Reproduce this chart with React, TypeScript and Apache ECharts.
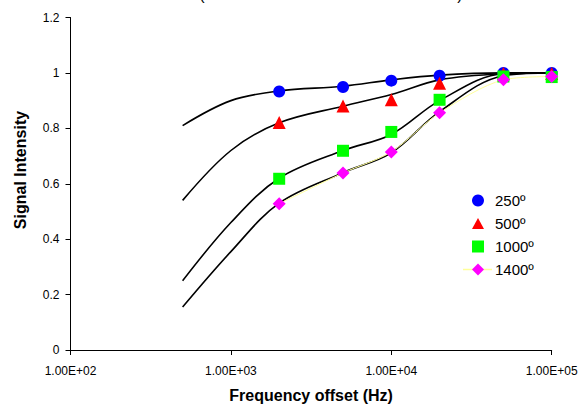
import React, { useEffect, useRef } from "react";
import * as echarts from "echarts";

const FONT = "'Liberation Sans', Arial, sans-serif";

// Theoretical curves (black lines)
const curveFreq = [500, 1000, 2000, 5000, 10000, 20000, 50000, 100000];
const curve250 = [0.81, 0.9, 0.935, 0.952, 0.975, 0.992, 1.0, 1.0];
const curve500 = [0.54, 0.72, 0.82, 0.88, 0.922, 0.975, 0.997, 1.0];
const curve1000 = [0.25, 0.46, 0.62, 0.72, 0.778, 0.9, 0.997, 1.0];
const curve1400 = [0.155, 0.355, 0.53, 0.64, 0.712, 0.86, 0.99, 1.0];

// Measured points
const measFreq = [2000, 5000, 10000, 20000, 50000, 100000];
const meas250 = [0.933, 0.949, 0.972, 0.99, 1.0, 1.0];
const meas500 = [0.821, 0.881, 0.903, 0.963, 0.998, 0.998];
const meas1000 = [0.618, 0.719, 0.787, 0.903, 0.987, 0.985];
const meas1400 = [0.528, 0.639, 0.715, 0.856, 0.975, 0.987];

const legendNames = ["250º", "500º", "1000º", "1400º"];
const legendIcons = [
  "path://M5,0 A5,5 0 1 1 4.99,0 Z",
  "path://M5,0 L10,9 L0,9 Z",
  "path://M0,0 L10,0 L10,10 L0,10 Z",
  "path://M5,0 L10,5 L5,10 L0,5 Z",
];
const yTicks = [0, 0.2, 0.4, 0.6, 0.8, 1, 1.2];

const pairs = (xs: number[], ys: number[]) => xs.map((x, i) => [x, ys[i]]);

const LEG_LEFT = 467;
const LEG_TOP = 188;
const LEG_ICON = 12;
const LEG_STEP = 23;

export default function App() {
  const ref = useRef<HTMLDivElement>(null);
  useEffect(() => {
    if (!ref.current) return;
    const chart = echarts.init(ref.current, null, { renderer: "svg" });
    const curveSeries = [curve250, curve500, curve1000, curve1400].map((c, i) => ({
      name: "curve" + i,
      type: "line",
      data: pairs(curveFreq, c),
      smooth: 0.35,
      symbol: "none",
      silent: true,
      z: 1,
      lineStyle: { color: "#000", width: 1.6 },
    }));
    const legY4 = LEG_TOP + 5 + 7.5 + 3 * LEG_STEP;
    const iconCx = LEG_LEFT + 5 + LEG_ICON / 2;
    chart.setOption({
      animation: false,
      grid: { left: 70.5, right: 32.3, top: 17.5, bottom: 57, containLabel: false },
      xAxis: {
        type: "log",
        logBase: 10,
        min: 100,
        max: 100000,
        name: "Frequency offset (Hz)",
        nameLocation: "middle",
        nameGap: 37,
        nameTextStyle: { fontFamily: FONT, fontSize: 16, fontWeight: "bold", color: "#000" },
        axisLine: { show: true, lineStyle: { color: "#000", width: 1 } },
        axisTick: { show: true, inside: false, length: 5, lineStyle: { color: "#000" } },
        minorTick: { show: false },
        splitLine: { show: false },
        axisLabel: {
          margin: 15,
          fontFamily: FONT,
          fontSize: 12,
          color: "#000",
          formatter: (v: number) => {
            const e = Math.round(Math.log10(v));
            return "1.00E+" + String(e).padStart(2, "0");
          },
        },
      },
      yAxis: {
        type: "value",
        min: yTicks[0],
        max: yTicks[yTicks.length - 1],
        interval: 0.2,
        axisLine: { show: true, lineStyle: { color: "#000", width: 1 } },
        axisTick: { show: true, inside: false, length: 5, lineStyle: { color: "#000" } },
        splitLine: { show: false },
        axisLabel: {
          margin: 11,
          fontFamily: FONT,
          fontSize: 12,
          color: "#000",
          formatter: (v: number) => String(Math.round(v * 10) / 10),
        },
      },
      legend: {
        data: legendNames.map((n, i) => ({ name: n, icon: legendIcons[i] })),
        orient: "vertical",
        left: LEG_LEFT,
        top: LEG_TOP,
        itemWidth: LEG_ICON,
        itemHeight: LEG_ICON,
        itemGap: 8,
        symbolKeepAspect: true,
        textStyle: { fontFamily: FONT, fontSize: 15, color: "#000", padding: [0, 0, 0, 6] },
      },
      graphic: [
        {
          type: "text",
          x: 20,
          y: 170,
          rotation: Math.PI / 2,
          style: {
            text: "Signal Intensity",
            fontFamily: FONT,
            fontSize: 16,
            fontWeight: "bold",
            fill: "#000",
            align: "center",
            verticalAlign: "middle",
          },
        },
        {
          type: "line",
          z: -1,
          shape: { x1: iconCx - 15, y1: legY4, x2: iconCx + 14, y2: legY4 },
          style: { stroke: "#FFFF99", lineWidth: 1.5 },
        },
        {
          type: "text",
          x: 202,
          y: -6,
          style: { text: "(", fontFamily: FONT, fontSize: 16, fill: "#000", align: "center", verticalAlign: "middle" },
        },
        {
          type: "text",
          x: 460,
          y: -6,
          style: { text: ")", fontFamily: FONT, fontSize: 16, fill: "#000", align: "center", verticalAlign: "middle" },
        },
      ],
      series: [
        ...curveSeries,
        {
          name: legendNames[0],
          type: "scatter",
          data: pairs(measFreq, meas250),
          symbol: "circle",
          symbolSize: 12,
          itemStyle: { color: "#0000FF", opacity: 1 },
          z: 3,
        },
        {
          name: legendNames[1],
          type: "scatter",
          data: pairs(measFreq, meas500),
          symbol: "triangle",
          symbolSize: 13,
          itemStyle: { color: "#FF0000", opacity: 1 },
          z: 3,
        },
        {
          name: legendNames[2],
          type: "scatter",
          data: pairs(measFreq, meas1000),
          symbol: "rect",
          symbolSize: 12,
          itemStyle: { color: "#00FF00", opacity: 1 },
          z: 3,
        },
        {
          name: legendNames[3],
          type: "line",
          data: pairs(measFreq, meas1400),
          smooth: 0.3,
          symbol: "diamond",
          symbolSize: 13,
          showSymbol: true,
          itemStyle: { color: "#FF00FF", borderWidth: 0 },
          lineStyle: { color: "#FFFF99", width: 1 },
          z: 3,
        },
      ],
    });
    return () => chart.dispose();
  }, []);
  return <div ref={ref} style={{ width: 584, height: 408, position: "absolute", left: 0, top: 0 }} />;
}
